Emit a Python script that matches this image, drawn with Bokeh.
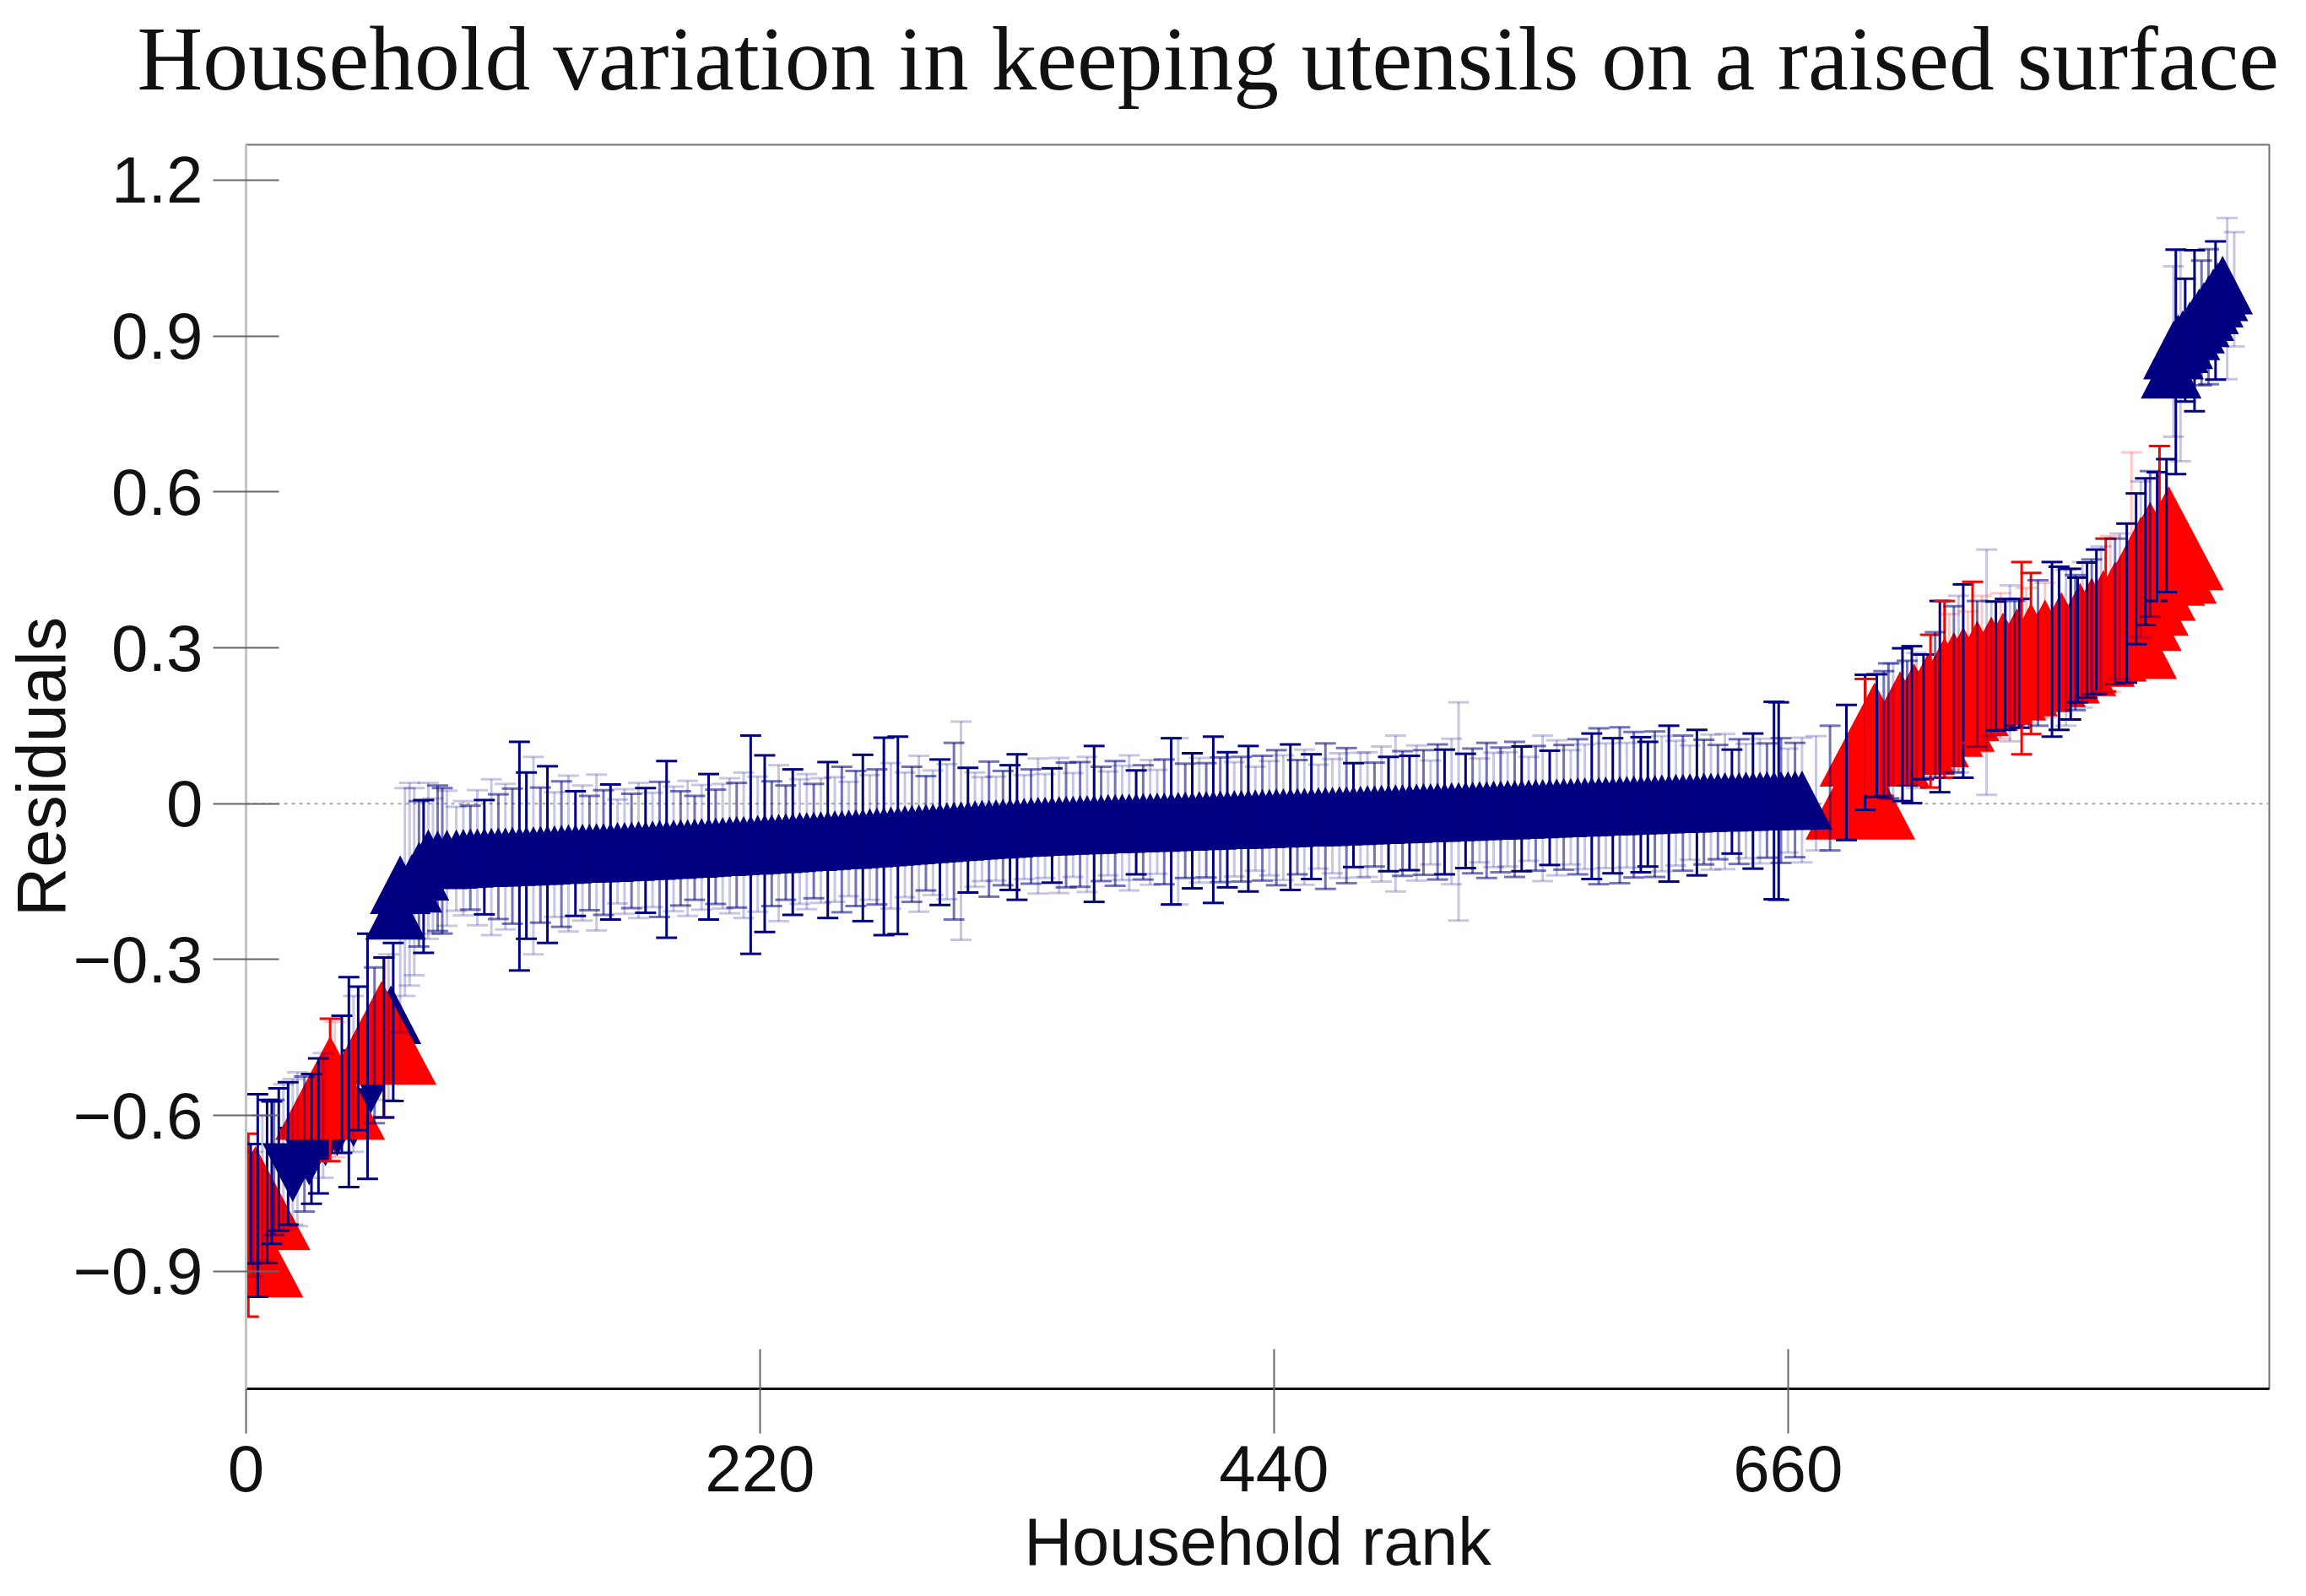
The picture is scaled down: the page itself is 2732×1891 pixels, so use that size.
from bokeh.embed import file_html
from bokeh.resources import INLINE
from bokeh.plotting import figure
from bokeh.models import FixedTicker, Range1d, Span, ColumnDataSource

TITLE = "Household variation in keeping utensils on a raised surface"
X_LABEL = "Household rank"
Y_LABEL = "Residuals"
X_TICKS = [0, 220, 440, 660]
Y_TICKS = [-0.9, -0.6, -0.3, 0, 0.3, 0.6, 0.9, 1.2]
Y_TICK_LABELS = {"-0.9": "\u22120.9", "-0.6": "\u22120.6", "-0.3": "\u22120.3", "0": "0",
                 "0.3": "0.3", "0.6": "0.6", "0.9": "0.9", "1.2": "1.2"}

# triangle marks, drawn in list order. kind: R red up, B navy up, V navy down
left_ranks = [1, 4, 20, 27, 34, 39, 46, 54, 62, 36, 58, 64, 66, 71, 74, 78, 82, 86]
left_res = [-0.85, -0.759, -0.71, -0.678, -0.641, -0.622, -0.604, -0.529, -0.406, -0.547, -0.441,
            -0.205, -0.156, -0.153, -0.13, -0.106, -0.108, -0.107]
left_kind = "RRVVVVVVBRRBBBBBBB"

first_red_rank = [691]
first_red_res = [0.031]

mid_res = [
    -.106, -.105, -.104, -.104, -.103, -.103, -.102, -.102, -.101, -.101,
    -.100, -.100, -.099, -.098, -.098, -.097, -.096, -.096, -.095, -.095,
    -.094, -.094, -.093, -.092, -.092, -.091, -.090, -.090, -.089, -.088,
    -.088, -.087, -.086, -.086, -.085, -.084, -.083, -.083, -.082, -.081,
    -.080, -.080, -.079, -.078, -.077, -.077, -.076, -.075, -.074, -.073,
    -.073, -.072, -.071, -.070, -.069, -.069, -.068, -.067, -.066, -.065,
    -.064, -.063, -.062, -.061, -.060, -.059, -.058, -.057, -.056, -.055,
    -.054, -.053, -.052, -.051, -.050, -.049, -.049, -.048, -.047, -.046,
    -.045, -.045, -.044, -.043, -.043, -.042, -.042, -.041, -.041, -.040,
    -.040, -.039, -.039, -.038, -.038, -.037, -.037, -.036, -.036, -.036,
    -.035, -.035, -.034, -.034, -.033, -.033, -.032, -.032, -.031, -.031,
    -.031, -.030, -.030, -.029, -.029, -.028, -.028, -.027, -.027, -.026,
    -.026, -.026, -.025, -.025, -.024, -.024, -.023, -.023, -.022, -.022,
    -.021, -.021, -.020, -.020, -.019, -.019, -.018, -.018, -.017, -.017,
    -.016, -.016, -.015, -.015, -.014, -.014, -.013, -.013, -.012, -.012,
    -.011, -.011, -.010, -.010, -.009, -.009, -.008, -.008, -.007, -.007,
    -.006, -.006, -.005, -.005, -.004, -.004, -.003, -.003, -.002, -.002,
    -.001, -.001, .000, .000, .001, .001, .002, .002, .003, .003,
    .003, .004, .004, .004, .005, .005, .005, .006, .006, .006,
    .006, .007, .007,
]
mid_half = [
    .10, .11, .10, .13, .11, .15, .12, .14, .13, .22,
    .16, .19, .13, .17, .12, .14, .15, .12, .13, .11,
    .15, .12, .13, .10, .12, .11, .13, .12, .11, .13,
    .17, .12, .11, .13, .10, .12, .14, .11, .12, .13,
    .12, .14, .21, .13, .17, .12, .15, .11, .14, .12,
    .13, .11, .12, .15, .12, .14, .11, .13, .16, .12,
    .13, .19, .14, .19, .12, .13, .15, .11, .12, .14,
    .13, .17, .21, .12, .11, .10, .13, .10, .11, .12,
    .14, .10, .11, .13, .10, .11, .13, .12, .10, .12,
    .13, .15, .11, .10, .12, .11, .13, .10, .11, .12,
    .10, .12, .16, .16, .11, .13, .12, .11, .16, .12,
    .13, .11, .12, .14, .10, .12, .11, .13, .12, .14,
    .11, .13, .12, .10, .14, .11, .12, .13, .10, .12,
    .12, .10, .13, .11, .15, .12, .11, .13, .12, .10,
    .13, .12, .14, .21, .11, .12, .10, .13, .11, .12,
    .11, .13, .12, .10, .12, .14, .11, .13, .12, .11,
    .13, .12, .14, .15, .12, .13, .15, .12, .14, .13,
    .12, .14, .13, .15, .12, .13, .11, .14, .12, .13,
    .11, .13, .10, .12, .11, .13, .12, .11, .19, .12,
    .10, .11, .12,
]
mid_tone = (
    "LLMLDLMLMD" "DLMDLMLDLM" "LMDLLMLDLM" "DLMLMLDMLL"
    "MLDLDMLMDL" "LMLDLMLMDL" "MDLDLMLMLD" "LMLDLLMLMD"
    "DLMLLDLMLM" "LDMLMLLDML" "LMDLMDLMDM" "DLMDLMLMLD"
    "MLDLMLLMDL" "LMLDLMDLML" "MDLLDMLMLM" "LMDLMLDLML"
    "MLDMLDMLMD" "DMLDLMLDML" "MLDMLDLMDM" "LML"
)

right_red_ranks = [697, 708, 714, 720, 725, 727, 731, 735, 741, 747, 752, 758, 764, 770, 777, 785, 790,
                   795, 800, 803, 805, 808, 811, 815, 820, 823]
right_red_res = [0.133, 0.155, 0.17, 0.19, 0.20, 0.22, 0.23, 0.24, 0.252, 0.26, 0.268, 0.276, 0.286,
                 0.293, 0.307, 0.325, 0.335, 0.35, 0.366, 0.34, 0.394, 0.423, 0.452, 0.481, 0.485, 0.511]

end_blue_ranks = [824, 825, 827, 829, 832, 834, 836, 838, 840, 842, 844, 846]
end_blue_res = [0.836, 0.873, 0.885, 0.893, 0.91, 0.923, 0.935, 0.947, 0.96, 0.973, 0.985, 0.998]

# error bars outside the middle band. tone: D navy, M navy mid, L navy pale, R red, P pale red
bar_ranks = [1, 2, 5, 9, 11, 14, 18, 22, 28, 31, 36, 41, 44, 48, 52, 59, 59, 63, 70, 72, 76, 80, 84,
             656, 672, 678, 685, 693, 693, 698, 703, 709, 713, 718, 721, 725, 727, 735, 739, 745, 749, 753,
             759, 760, 764, 773, 776, 781, 784, 788, 792, 796, 800, 805, 807, 809, 813, 818, 819, 822,
             825, 826, 828, 830, 834, 837, 840, 843, 848, 851]
bar_res = [-0.811, -0.77, -0.754, -0.727, -0.71, -0.685, -0.673, -0.665, -0.645, -0.62, -0.551, -0.54,
           -0.536, -0.49, -0.486, -0.45, -0.45, -0.42, -0.155, -0.15, -0.14, -0.12, -0.11,
           0.005, 0.02, 0.03, 0.06, 0.118, 0.13, 0.131, 0.14, 0.152, 0.152, 0.167, 0.178, 0.206, 0.22, 0.236,
           0.272, 0.253, 0.265, 0.268, 0.27, 0.28, 0.289, 0.297, 0.299, 0.307, 0.315, 0.334, 0.35, 0.363,
           0.37, 0.386, 0.506, 0.452, 0.485, 0.514, 0.518, 0.535, 0.87, 0.85, 0.862, 0.892, 0.91, 0.925,
           0.937, 0.949, 0.972, 0.99]
bar_half = [0.176, 0.115, 0.195, 0.157, 0.137, 0.137, 0.137, 0.148, 0.125, 0.13, 0.137, 0.132, 0.202,
            0.138, 0.236, 0.154, 0.154, 0.152, 0.195, 0.18, 0.147, 0.13, 0.14,
            0.19, 0.11, 0.12, 0.13, 0.13, 0.11, 0.118, 0.13, 0.147, 0.151, 0.12, 0.147, 0.184, 0.17, 0.186,
            0.155, 0.236, 0.124, 0.126, 0.124, 0.185, 0.155, 0.168, 0.157, 0.145, 0.12, 0.13, 0.139, 0.147,
            0.14, 0.153, 0.17, 0.145, 0.141, 0.124, 0.17, 0.128, 0.164, 0.216, 0.203, 0.118, 0.155, 0.12,
            0.13, 0.133, 0.155, 0.11]
bar_tone = "RDDDDDDLDDRDDDDRDDLLDLM" "DLMDDRDMDDDRDRDRLDDDRRDDDDDDRMDPDDDRDLDLDDMMDLL"

extra_ranks = [3, 7, 12, 16, 20, 25, 33, 38, 46, 55, 61, 66, 68, 74, 78, 82, 86,
               701, 705, 711, 715, 723, 729, 731, 733, 737, 741, 743, 747, 751, 755, 757, 762, 767, 770,
               779, 783, 786, 790, 794, 798, 802, 811, 815]
extra_res = [-0.79, -0.74, -0.70, -0.68, -0.67, -0.655, -0.6, -0.55, -0.52, -0.465, -0.43, -0.3, -0.17,
             -0.135, -0.11, -0.105, -0.105,
             0.135, 0.14, 0.155, 0.16, 0.19, 0.215, 0.22, 0.23, 0.24, 0.25, 0.25, 0.26, 0.265, 0.27, 0.27,
             0.285, 0.29, 0.295, 0.30, 0.31, 0.325, 0.34, 0.355, 0.365, 0.38, 0.47, 0.50]
extra_half = [0.12, 0.14, 0.13, 0.14, 0.14, 0.13, 0.12, 0.13, 0.15, 0.15, 0.14, 0.14, 0.2, 0.14, 0.15, 0.14,
              0.13,
              0.12, 0.13, 0.12, 0.13, 0.14, 0.15, 0.16, 0.17, 0.13, 0.14, 0.15, 0.13, 0.14, 0.15, 0.12, 0.13,
              0.14, 0.13, 0.15, 0.13, 0.14, 0.13, 0.14, 0.15, 0.14, 0.15, 0.14]
extra_tone = "LLMLLMLPLMLLLMLML" "MLMLMPMLPMPLPLMPMPLMLMLPLLM"

NAVY = "#000080"
RED = "#ff0000"
TONES = {"D": (NAVY, 1.0), "M": (NAVY, 0.55), "L": (NAVY, 0.22), "R": (RED, 1.0), "P": (RED, 0.22)}

mid_ranks = [90 + 3 * i for i in range(len(mid_res))]

mark_ranks = left_ranks + first_red_rank + mid_ranks + right_red_ranks + end_blue_ranks
mark_res = left_res + first_red_res + mid_res + right_red_res + end_blue_res
mark_kind = left_kind + "R" + "B" * len(mid_res) + "R" * len(right_red_res) + "B" * len(end_blue_res)

# triangle extents in data units (ranks across, residual units high)
HALF_W = {"R": 23.5, "B": 13.0, "V": 13.0}
HEIGHT = {"R": 0.2, "B": 0.113, "V": 0.113}

xs, ys, colors = [], [], []
for r, v, k in zip(mark_ranks, mark_res, mark_kind):
    w, h = HALF_W[k], HEIGHT[k]
    xs.append([r - w, r + w, r])
    if k == "V":
        ys.append([v + h / 2, v + h / 2, v - h / 2])
    else:
        ys.append([v - h / 2, v - h / 2, v + h / 2])
    colors.append(RED if k == "R" else NAVY)

all_bar_ranks = mid_ranks + bar_ranks + extra_ranks
all_bar_res = mid_res + bar_res + extra_res
all_bar_half = mid_half + bar_half + extra_half
all_bar_tone = mid_tone + bar_tone + extra_tone
CAP = 4.5

seg = {"x0": [], "x1": [], "y0": [], "y1": [], "c": [], "a": []}
for r, v, h, t in zip(all_bar_ranks, all_bar_res, all_bar_half, all_bar_tone):
    c, a = TONES[t]
    for x0, x1, y0, y1 in ((r, r, v - h, v + h),
                           (r - CAP, r + CAP, v + h, v + h),
                           (r - CAP, r + CAP, v - h, v - h)):
        seg["x0"].append(x0); seg["x1"].append(x1)
        seg["y0"].append(y0); seg["y1"].append(y1)
        seg["c"].append(c); seg["a"].append(a)

FRAME_W, FRAME_H = 2397, 1474

p = figure(frame_width=FRAME_W, frame_height=FRAME_H, output_backend="svg", toolbar_location=None,
           x_range=Range1d(0, 866), y_range=Range1d(-1.126, 1.268),
           min_border_left=279, min_border_right=36, min_border_top=0, min_border_bottom=40,
           background_fill_color="white")
p.grid.visible = False
p.outline_line_color = "#707070"
p.outline_line_width = 2
p.margin = (-36, 0, 0, 0)

p.title.text = TITLE
p.title.text_font = "Liberation Serif"
p.title.text_font_size = "107.5px"
p.title.text_font_style = "normal"
p.title.text_color = "#111111"
p.title.align = "left"
p.title.offset = -129
p.title.standoff = 86

zero = Span(location=0, dimension="width", line_color="#a8a8a8", line_width=2, line_dash="4 5", level="underlay")
p.add_layout(zero)

p.patches(xs="xs", ys="ys", fill_color="colors", line_color=None,
          source=ColumnDataSource(dict(xs=xs, ys=ys, colors=colors)))
p.segment("x0", "y0", "x1", "y1", line_color="c", line_alpha="a", line_width=3, source=ColumnDataSource(seg))

xa, ya = p.xaxis[0], p.yaxis[0]
xa.ticker = FixedTicker(ticks=X_TICKS)
ya.ticker = FixedTicker(ticks=Y_TICKS)
ya.major_label_overrides = {float(k): v for k, v in Y_TICK_LABELS.items()}
ya.major_label_orientation = "horizontal"
for ax, label, size in ((xa, X_LABEL, "79px"), (ya, Y_LABEL, "81px")):
    ax.axis_label = label
    ax.axis_label_text_font = "Liberation Sans"
    ax.axis_label_text_font_size = size
    ax.axis_label_text_font_style = "normal"
    ax.axis_label_text_color = "#111111"
    ax.major_label_text_font = "Liberation Sans"
    ax.major_label_text_font_size = "78px"
    ax.major_label_text_color = "#111111"
    ax.minor_tick_line_color = None
    ax.major_tick_line_color = "#666666"
    ax.major_tick_line_width = 2
xa.axis_line_color = "#111111"
xa.axis_line_width = 3
ya.axis_line_color = "#c4c4c4"
ya.axis_line_width = 3
xa.major_tick_in = 47
xa.major_tick_out = 53
ya.major_tick_in = 39
ya.major_tick_out = 39
xa.major_label_standoff = 14
ya.major_label_standoff = 12
xa.axis_label_standoff = 12
ya.axis_label_standoff = -10

open("out.html", "w").write(file_html(p, INLINE))
